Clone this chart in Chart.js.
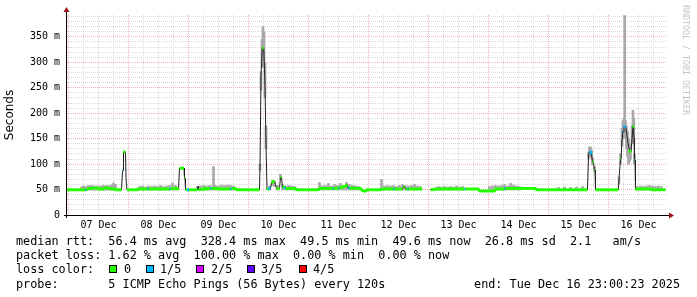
<!DOCTYPE html>
<html lang="en">
  <head>
    <meta charset="UTF-8" />
    <title>smokeping rtt</title>
    <style>
      html, body { margin: 0; padding: 0; background: #fff; }
      #wrap { position: relative; width: 697px; height: 297px; overflow: hidden; }
      #wrap canvas { position: absolute; left: 0; top: 0; }
      .txt { position: absolute; font: 11.8px "DejaVu Sans Mono", monospace; line-height: 14px; white-space: pre; color: #000; }
      .box { position: absolute; width: 6px; height: 6px; border: 1px solid #000; }
      #mark { position: absolute; left: 681px; top: 5px; line-height: 12px; writing-mode: vertical-rl; font: 8.3px "DejaVu Sans Mono", monospace; color: #c4c4c4; white-space: pre; }
    </style>
  </head>
  <body>
    <div id="wrap">
      <canvas id="smoke" width="697" height="297"></canvas>
      <div id="mark">RRDTOOL / TOBI OETIKER</div>
    </div>
    <script src="https://cdn.jsdelivr.net/npm/chart.js"></script>
    <script>
        // hours since 07 Dec 00:00
        const dayLabels = ["07 Dec", "08 Dec", "09 Dec", "10 Dec", "11 Dec", "12 Dec", "13 Dec", "14 Dec", "15 Dec", "16 Dec"];

        // median rtt (ms) and loss bin (0..4) per sample
        const rttHours = [
            -0.6, 6.8, 7.2, 8.0, 9.6, 10.0, 11.6, 12.0, 14.0, 14.4, 16.4, 16.8, 18.4, 18.8,
            21.2, 21.6, 21.8, 22.0, 22.8, 23.0, 23.2, 23.4,
            27.6, 28.0, 31.6, 32.0, 34.0, 40.4, 40.8, 41.6, 43.6, 44.0,
            44.4, 46.2, 46.4, 46.6, 46.8, 47.4, 48.2,
            51.6, 51.8, 52.0, 54.4, 54.6, 54.8, 56.8, 57.2, 60.0, 60.4, 64.8, 65.2, 66.8, 67.2,
            76.4, 76.6, 76.8, 77.0, 77.2, 77.5, 78.1, 78.6, 78.8, 79.0, 79.2, 79.4,
            80.0, 80.8, 81.2, 81.8, 82.4, 82.8, 83.2, 84.4, 84.8, 85.2, 85.6, 86.4, 86.8, 90.8, 91.2,
            100.0, 100.4, 105.6, 106.0, 108.0, 108.4, 111.0, 111.4, 111.8, 112.4, 116.8, 117.2, 118.0, 119.0, 119.2,
            125.0, 125.4, 130.0, 130.4, 133.6, 134.0, 134.4, 134.8, 135.6, 136.0, 141.0, 141.4, 141.6, 142.0, 144.6, 144.9,
            148.8, 158.4, 158.8, 164.0, 164.4, 170.4, 170.8, 174.4, 174.8, 186.8, 187.2,
            207.6, 208.0, 208.4, 208.8, 209.2, 209.6, 210.0, 210.4, 210.6, 210.8,
            219.9, 220.2, 220.4, 220.8, 221.0, 221.4, 221.6, 221.8, 222.2, 222.6, 223.0, 223.2, 223.6, 224.0, 224.4, 224.8, 225.0, 225.4, 225.8, 226.0, 226.2, 226.4, 226.6, 226.8,
            227.2, 233.0, 233.4, 238.8
        ];
        const rttMedian = [
            49.5, 49.5, 49.5, 52, 52, 53, 53, 51, 51, 53, 53, 51, 51, 49.5,
            49.5, 87, 87, 124, 124, 72, 72, 49.5,
            49.5, 51, 51, 51, 51, 51, 51, 52, 52, 49.5,
            92, 92, 72, 72, 49.5, 49.5, 49.5,
            49.5, 56, 49.5, 51, 55, 51, 52, 52, 52, 51, 51, 52, 52, 49.5,
            49.5, 95, 95, 272, 272, 328, 328, 254, 254, 138, 138, 49.5,
            52, 52, 63, 66, 66, 60, 52, 52, 74, 74, 55, 55, 52, 52, 49.5,
            49.5, 52, 52, 52, 53, 53, 57, 60, 53, 53, 52, 49.5, 47, 47, 49.5,
            49.5, 51, 51, 51, 51, 56, 56, 51, 51, 51, 51, 49.5, 49.5, null, 49.5, 49.5,
            51, 51, 51, 51, 47, 47, 51, 51, 52, 52, 49.5,
            49.5, 118, 124, 124, 120, 104, 104, 88, 88, 49.5,
            49.5, 70, 70, 110, 110, 150, 163, 163, 172, 175, 170, 170, 148, 135, 128, 124, 124, 150, 174, 176, 150, 108, 108, 49.5,
            51, 51, 49.5, 49.5
        ];
        const rttLoss = [
            0, 1, 0, 0, 0, 0, 0, 0, 0, 0, 0, 0, 0, 0,
            0, 1, 0, 0, 0, 0, 0, 0,
            0, 0, 1, 0, 0, 1, 0, 0, 0, 0,
            0, 0, 0, 0, 0, 1, 0,
            0, 0, 0, 0, 0, 0, 1, 0, 0, 0, 1, 0, 0, 0,
            0, 0, 0, 0, 0, 0, 0, 1, 0, 1, 0, 0,
            1, 0, 0, 0, 1, 0, 0, 0, 0, 0, 0, 1, 0, 0, 0,
            0, 0, 1, 0, 1, 0, 0, 0, 1, 0, 0, 0, 0, 0, 0,
            0, 0, 1, 0, 0, 0, 0, 0, 1, 0, 0, 2, 2, 0, 2, 0,
            0, 1, 0, 0, 0, 0, 0, 1, 0, 0, 0,
            0, 0, 1, 1, 0, 0, 0, 0, 0, 0,
            0, 0, 0, 0, 0, 0, 1, 1, 1, 0, 2, 0, 0, 0, 0, 0, 0, 0, 0, 0, 0, 1, 0, 0,
            0, 0, 0, 0
        ];

        // smoke (spread of the pings), ms
        const smokeHours = [
            5.2, 6.0, 6.8, 8.0, 8.8, 9.6, 10.4, 11.2, 12.4, 13.2, 14.0, 14.8, 15.6, 16.4, 17.2, 18.0, 18.8,
            28.4, 29.6, 30.8, 32.0, 33.2, 34.4, 35.6, 36.8, 38.0, 39.2, 40.4, 41.6, 42.8,
            51.6, 52.8, 54.0, 55.2, 56.4, 57.6, 58.0, 58.8, 60.0, 61.2, 62.4, 63.6, 64.8, 66.0,
            76.6, 77.0, 77.4, 77.8, 78.2, 78.6, 79.0,
            80.4, 81.6, 82.4, 83.6, 84.8, 85.6, 86.8, 88.0, 89.2, 90.4,
            100.4, 101.6, 102.8, 104.0, 105.2, 106.4, 107.6, 108.8, 110.0, 111.2, 112.4, 113.6, 114.8, 116.0,
            125.2, 126.4, 127.6, 128.8, 130.0, 131.2, 132.4, 133.6, 134.8, 136.0, 137.2, 138.4, 139.6, 140.8,
            146.8, 148.0, 149.2, 150.4, 151.6, 152.8, 154.0, 155.2, 156.4, 157.6,
            168.4, 169.6, 170.8, 172.0, 173.2, 174.4, 175.6, 176.8, 178.0, 179.2, 180.4,
            196.0, 198.4, 200.8, 203.2, 205.6,
            208.0, 208.4, 208.8, 209.2, 209.6, 210.4,
            220.2, 220.8, 221.4, 221.8, 222.2, 222.5, 222.8, 223.2, 223.6, 224.0, 224.4, 224.8, 225.4, 225.8, 226.1, 226.4,
            227.6, 228.8, 230.0, 231.2, 232.4, 233.6, 234.8, 236.0, 237.2
        ];
        const smokeLow = [
            49, 49, 49, 49, 49, 49, 49, 49, 49, 49, 49, 49, 49, 49, 49, 49, 49,
            49, 49, 49, 49, 49, 49, 49, 49, 49, 49, 49, 49, 49,
            49, 49, 49, 49, 49, 49, 49, 49, 49, 49, 49, 49, 49, 49,
            88, 245, 290, 300, 290, 230, 130,
            49, 58, 56, 49, 70, 49, 49, 49, 49, 49,
            49, 49, 49, 49, 49, 49, 49, 49, 49, 49, 49, 49, 49, 49,
            49, 49, 49, 49, 49, 49, 49, 49, 49, 49, 49, 49, 49, 49,
            49, 49, 49, 49, 49, 49, 49, 49, 49, 49,
            49, 49, 49, 49, 49, 49, 49, 49, 49, 49, 49,
            49, 49, 49, 49, 49,
            112, 115, 118, 110, 98, 85,
            62, 100, 135, 150, 155, 160, 150, 130, 115, 100, 105, 110, 140, 150, 140, 100,
            49, 49, 49, 49, 49, 49, 49, 49, 49
        ];
        const smokeHigh = [
            55, 57, 56, 58, 57, 58, 56, 57, 56, 57, 58, 57, 58, 57, 59, 63, 60,
            56, 57, 55, 57, 56, 57, 56, 58, 56, 57, 58, 63, 58,
            56, 57, 58, 57, 58, 57, 95, 58, 57, 59, 58, 59, 58, 57,
            100, 282, 345, 370, 360, 300, 175,
            57, 68, 66, 58, 80, 60, 57, 58, 57, 56,
            64, 57, 58, 62, 57, 60, 58, 62, 58, 64, 60, 58, 57, 56,
            70, 57, 58, 57, 58, 56, 58, 60, 58, 57, 58, 60, 57, 56,
            54, 56, 55, 56, 55, 56, 55, 57, 55, 56,
            56, 57, 58, 57, 58, 60, 57, 62, 59, 57, 56,
            54, 55, 54, 55, 56,
            124, 134, 133, 128, 112, 95,
            75, 120, 170, 185, 190, 392, 185, 175, 165, 150, 140, 135, 175, 206, 190, 120,
            56, 57, 56, 57, 58, 57, 56, 57, 56
        ];

        const lossColors = ["#26ff00", "#00b8ff", "#d300ff", "#5e00ff", "#ff0000"];
        const lossLabels = ["0", "1/5", "2/5", "3/5", "4/5"];

        const majorGrid = "#eeb4b4";
        const minorGrid = "#dadada";

        const rttPoints = rttHours.map((h, i) => ({x: h, y: rttMedian[i]}));
        const smokePoints = smokeHours.map((h, i) => ({x: h, y: [smokeLow[i], smokeHigh[i]]}));

        const xTicks = [];
        for (let h = 0; h < 239; h += 6) xTicks.push({value: h});
        const yTicks = [];
        for (let v = 0; v <= 390; v += 10) yTicks.push({value: v});

        const axisArrows = {
            id: 'axisArrows',
            afterDraw(chart) {
                const {ctx, chartArea: {left, right, bottom, top}} = chart;
                ctx.save();
                ctx.strokeStyle = '#000';
                ctx.lineWidth = 1;
                ctx.beginPath();
                ctx.moveTo(left - 0.5, bottom + 3);
                ctx.lineTo(left - 0.5, top - 4);
                ctx.moveTo(left - 3, bottom + 0.5);
                ctx.lineTo(right + 3, bottom + 0.5);
                ctx.stroke();
                ctx.fillStyle = '#a01010';
                ctx.beginPath();
                ctx.moveTo(left - 3.5, top - 3);
                ctx.lineTo(left + 2.5, top - 3);
                ctx.lineTo(left - 0.5, top - 8);
                ctx.closePath();
                ctx.fill();
                ctx.beginPath();
                ctx.moveTo(right + 2, bottom - 2.5);
                ctx.lineTo(right + 2, bottom + 3.5);
                ctx.lineTo(right + 7, bottom + 0.5);
                ctx.closePath();
                ctx.fill();
                ctx.restore();
            }
        };

        const config = {
            type: 'line',
            data: {
                datasets: [
                    {
                        label: 'loss',
                        data: rttPoints,
                        borderWidth: 3,
                        borderJoinStyle: 'bevel',
                        pointRadius: 0,
                        spanGaps: false,
                        order: 1,
                        segment: {
                            borderColor: c => Math.abs(c.p1.parsed.y - c.p0.parsed.y) <= 4
                                ? lossColors[rttLoss[c.p0DataIndex]] : 'rgba(0,0,0,0)'
                        }
                    },
                    {
                        label: 'median',
                        data: rttPoints,
                        borderColor: '#202020',
                        borderWidth: 1,
                        borderJoinStyle: 'bevel',
                        pointRadius: 0,
                        spanGaps: false,
                        order: 2
                    },
                    {
                        type: 'bar',
                        label: 'smoke',
                        data: smokePoints,
                        backgroundColor: '#a8a8a8',
                        barThickness: 2,
                        grouped: false,
                        order: 3
                    }
                ]
            },
            plugins: [axisArrows],
            options: {
                responsive: false,
                animation: false,
                devicePixelRatio: 1,
                layout: { padding: { left: 0, top: 15, right: 30, bottom: 0 } },
                plugins: {
                    legend: { display: false },
                    tooltip: { enabled: false }
                },
                scales: {
                    x: {
                        type: 'linear',
                        min: -0.6,
                        max: 239.4,
                        offset: false,
                        afterBuildTicks: s => { s.ticks = xTicks.map(t => ({value: t.value})); },
                        afterFit: s => { s.height = 82; },
                        grid: {
                            color: c => (c.tick && c.tick.value % 24 === 0) ? majorGrid : minorGrid,
                            drawTicks: false,
                            offset: false
                        },
                        border: { display: false, dash: [1, 1] },
                        ticks: {
                            autoSkip: false,
                            maxRotation: 0,
                            padding: 4,
                            color: '#000',
                            font: { family: 'DejaVu Sans Mono', size: 10 },
                            callback: v => v % 24 === 12 ? dayLabels[(v - 12) / 24] : ''
                        }
                    },
                    y: {
                        min: 0,
                        max: 393,
                        afterBuildTicks: s => { s.ticks = yTicks.map(t => ({value: t.value})); },
                        afterFit: s => { s.width = 67; },
                        grid: {
                            color: c => (c.tick && c.tick.value % 50 === 0) ? majorGrid : minorGrid,
                            drawTicks: false
                        },
                        border: { display: false, dash: [1, 1] },
                        title: {
                            display: true,
                            text: 'Seconds',
                            color: '#000',
                            font: { family: 'DejaVu Sans', size: 12 },
                            padding: { top: 3, bottom: 0 }
                        },
                        ticks: {
                            autoSkip: false,
                            padding: 7,
                            color: '#000',
                            font: { family: 'DejaVu Sans Mono', size: 10 },
                            callback: v => v % 50 === 0 ? (v === 0 ? '0' : v + ' m') : ''
                        }
                    }
                }
            }
        };

        const myChart = new Chart(document.getElementById('smoke'), config);

        // legend text under the graph
        const statLines = [
            "median rtt:  56.4 ms avg  328.4 ms max  49.5 ms min  49.6 ms now  26.8 ms sd  2.1   am/s",
            "packet loss: 1.62 % avg  100.00 % max  0.00 % min  0.00 % now",
            "loss color:",
            "probe:       5 ICMP Echo Pings (56 Bytes) every 120s"
        ];
        const lineTops = [234, 248, 262, 277];
        const wrap = document.getElementById('wrap');
        statLines.forEach((t, i) => {
            const d = document.createElement('div');
            d.className = 'txt';
            d.style.left = '16px';
            d.style.top = lineTops[i] + 'px';
            d.textContent = t;
            wrap.appendChild(d);
        });
        const endText = document.createElement('div');
        endText.className = 'txt';
        endText.style.right = '17px';
        endText.style.top = lineTops[3] + 'px';
        endText.textContent = "end: Tue Dec 16 23:00:23 2025";
        wrap.appendChild(endText);

        const boxLeft = [109, 146, 196, 247, 299];
        const labelLeft = [124, 160, 211, 261, 313];
        lossLabels.forEach((lab, i) => {
            const b = document.createElement('div');
            b.className = 'box';
            b.style.left = boxLeft[i] + 'px';
            b.style.top = '265px';
            b.style.background = lossColors[i];
            wrap.appendChild(b);
            const t = document.createElement('div');
            t.className = 'txt';
            t.style.left = labelLeft[i] + 'px';
            t.style.top = lineTops[2] + 'px';
            t.textContent = lab;
            wrap.appendChild(t);
        });
    </script>
  </body>
</html>
